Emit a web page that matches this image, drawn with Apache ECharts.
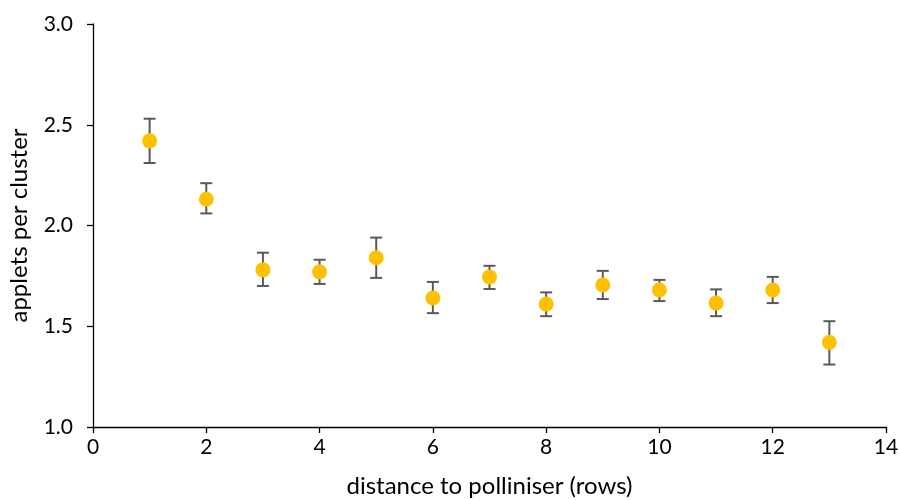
<!DOCTYPE html>
<html>
<head>
<meta charset="utf-8">
<script src="https://cdn.jsdelivr.net/npm/echarts@6/dist/echarts.min.js"></script>
<style>
  html, body { margin: 0; padding: 0; background: #fff; }
  #chart { width: 899px; height: 500px; }
</style>
</head>
<body>
<div id="chart"></div>
<script>
// data
var distance = [1, 2, 3, 4, 5, 6, 7, 8, 9, 10, 11, 12, 13];
var applets = [2.42, 2.13, 1.78, 1.77, 1.84, 1.64, 1.745, 1.61, 1.705, 1.68, 1.615, 1.68, 1.42];
var errLow = [2.31, 2.06, 1.70, 1.71, 1.74, 1.565, 1.685, 1.55, 1.635, 1.625, 1.55, 1.615, 1.31];
var errHigh = [2.53, 2.21, 1.865, 1.83, 1.94, 1.72, 1.80, 1.668, 1.775, 1.73, 1.683, 1.745, 1.525];

var font = "Lato, 'Open Sans', sans-serif";
var chart = echarts.init(document.getElementById("chart"));

var points = distance.map(function (d, i) { return [d, applets[i]]; });
var bars = distance.map(function (d, i) { return [d, errLow[i], errHigh[i]]; });

var option = {
  animation: false,
  textStyle: { fontFamily: font },
  grid: { left: 93, right: 13, top: 24, bottom: 73, outerBoundsMode: "none" },
  xAxis: {
    type: "value",
    min: 0,
    max: 14,
    interval: 2,
    name: "distance to polliniser (rows)",
    nameLocation: "middle",
    nameGap: 47,
    nameTextStyle: { color: "#000", fontSize: 24, fontFamily: font },
    axisLine: { onZero: false, lineStyle: { color: "#000", width: 1.3 } },
    axisTick: { show: true, length: 6, lineStyle: { color: "#000", width: 1.3 } },
    axisLabel: { color: "#000", fontSize: 21, margin: 10, fontFamily: font },
    splitLine: { show: false }
  },
  yAxis: {
    type: "value",
    min: 1.0,
    max: 3.0,
    interval: 0.5,
    name: "applets per cluster",
    nameLocation: "middle",
    nameGap: 62,
    nameTextStyle: { color: "#000", fontSize: 24, fontFamily: font },
    axisLine: { show: true, lineStyle: { color: "#000", width: 1.3 } },
    axisTick: { show: true, length: 6, lineStyle: { color: "#000", width: 1.3 } },
    axisLabel: {
      color: "#000",
      fontSize: 21,
      margin: 20,
      fontFamily: font,
      formatter: function (v) { return v.toFixed(1); }
    },
    splitLine: { show: false }
  },
  series: [
    {
      type: "custom",
      data: bars,
      z: 1,
      renderItem: function (params, api) {
        var x = api.value(0);
        var lo = api.coord([x, api.value(1)]);
        var hi = api.coord([x, api.value(2)]);
        var half = 6;
        var style = { stroke: "#595959", lineWidth: 2 };
        return {
          type: "group",
          children: [
            { type: "line", shape: { x1: lo[0], y1: lo[1], x2: hi[0], y2: hi[1] }, style: style },
            { type: "line", shape: { x1: hi[0] - half, y1: hi[1], x2: hi[0] + half, y2: hi[1] }, style: style },
            { type: "line", shape: { x1: lo[0] - half, y1: lo[1], x2: lo[0] + half, y2: lo[1] }, style: style }
          ]
        };
      }
    },
    {
      type: "scatter",
      data: points,
      z: 2,
      symbol: "circle",
      symbolSize: 15,
      itemStyle: { color: "#FFC000", opacity: 1 }
    }
  ]
};

chart.setOption(option);
</script>
</body>
</html>
